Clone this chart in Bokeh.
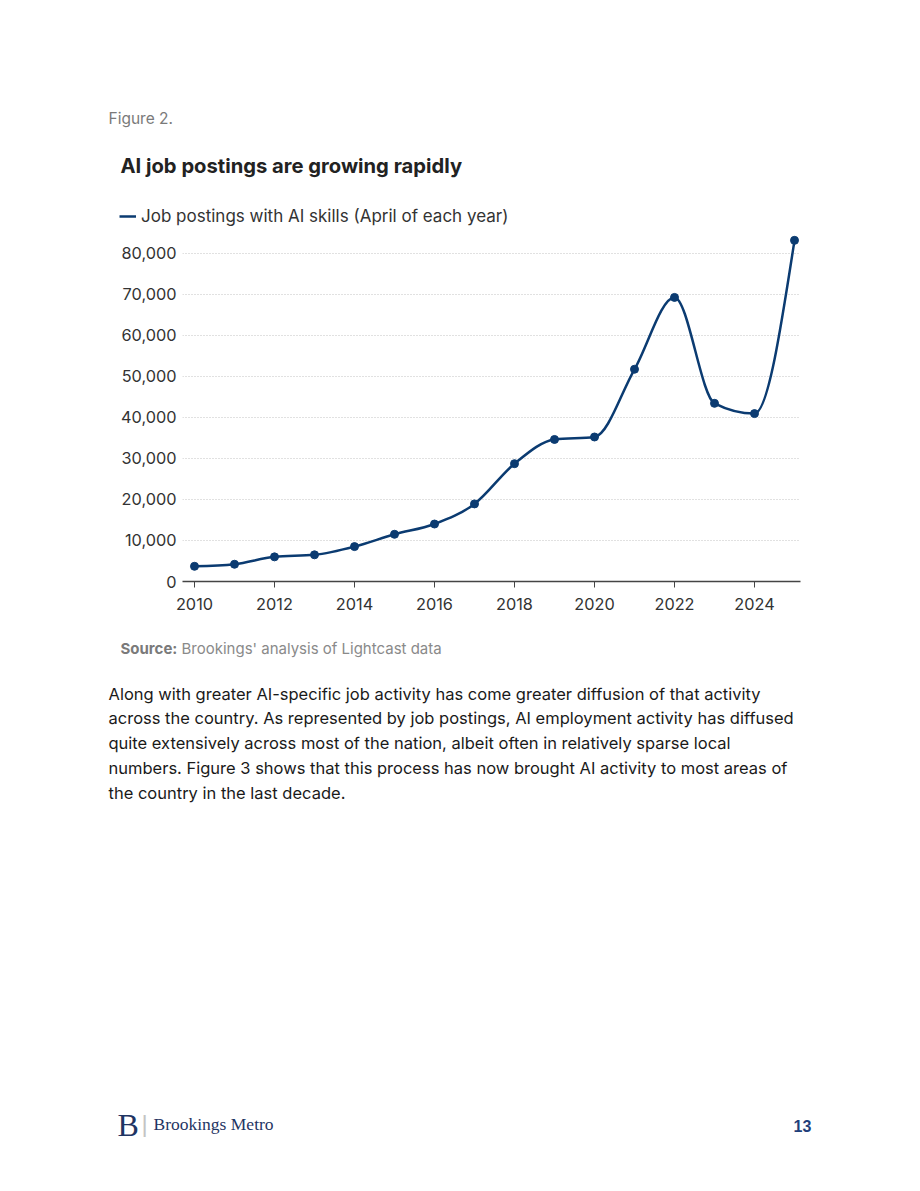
from bokeh.plotting import figure
from bokeh.layouts import column
from bokeh.models import (Label, Legend, LegendItem, FixedTicker, NumeralTickFormatter,
                          Range1d)
from bokeh.embed import file_html
from bokeh.resources import INLINE
import numpy as np

# Job postings with AI skills, April of each year
years = [2010, 2011, 2012, 2013, 2014, 2015, 2016, 2017,
         2018, 2019, 2020, 2021, 2022, 2023, 2024, 2025]
postings = [3700, 4200, 6000, 6500, 8500, 11500, 14000, 18900,
            28700, 34600, 35200, 51700, 69200, 43400, 40900, 83100]

x_ticks = [2010, 2012, 2014, 2016, 2018, 2020, 2022, 2024]
y_ticks = [0, 10000, 20000, 30000, 40000, 50000, 60000, 70000, 80000]

title_text = "AI job postings are growing rapidly"
legend_text = "Job postings with AI skills (April of each year)"
figure_text = "Figure 2."
source_bold = "Source:"
source_text = "Brookings' analysis of Lightcast data"
body_lines = [
    "Along with greater AI-specific job activity has come greater diffusion of that activity",
    "across the country. As represented by job postings, AI employment activity has diffused",
    "quite extensively across most of the nation, albeit often in relatively sparse local",
    "numbers. Figure 3 shows that this process has now brought AI activity to most areas of",
    "the country in the last decade.",
]

NAVY = "#0b3b71"
FONT = "Inter"

W = 920
TOP_H = 230          # header band: figure label, title, legend
CHART_H = 395        # chart band: plot frame plus x-axis labels
BOT_H = 1191 - TOP_H - CHART_H
F_LEFT, F_RIGHT, F_BOTTOM = 182, 800, 351   # frame edges inside the chart band
X0, X1 = 2009.7, 2025.15
Y0, Y1 = 0, 85500


def text_band(height, top):
    """A blank figure whose data coordinates equal page pixels."""
    f = figure(width=W, height=height, output_backend="svg", toolbar_location=None,
               x_range=Range1d(0, W), y_range=Range1d(top + height, top),
               x_axis_location=None, y_axis_location=None,
               min_border=0, min_border_left=0, min_border_right=0,
               min_border_top=0, min_border_bottom=0)
    f.frame_align = False
    f.outline_line_color = None
    f.xgrid.visible = False
    f.ygrid.visible = False
    return f


def add_text(f, px, py, text, size, color, style="normal", font=FONT):
    f.add_layout(Label(x=px, y=py, text=text, text_font=font,
                       text_font_size=size, text_color=color,
                       text_font_style=style, text_baseline="middle",
                       text_align="left"))


# ---- header ----
top = text_band(TOP_H, 0)
add_text(top, 108, 118, figure_text, "15.5px", "#7a7a7a")
add_text(top, 120, 165, title_text, "20.2px", "#222222", style="bold")
key = top.line(x=np.array([np.nan]), y=np.array([np.nan]),
               line_color=NAVY, line_width=2.5)
legend = Legend(items=[LegendItem(label=legend_text, renderers=[key])],
                location=(119, 4), orientation="horizontal",
                glyph_width=17, glyph_height=20, label_height=20,
                label_standoff=5, padding=0, margin=0, spacing=0,
                border_line_color=None, background_fill_alpha=0,
                label_text_font=FONT, label_text_font_size="17px",
                label_text_color="#333333")
top.add_layout(legend, "center")

# ---- chart ----
p = figure(width=W, height=CHART_H, output_backend="svg", toolbar_location=None,
           x_range=Range1d(X0, X1), y_range=Range1d(Y0, Y1),
           min_border_left=F_LEFT, min_border_right=W - F_RIGHT,
           min_border_top=0, min_border_bottom=CHART_H - F_BOTTOM)
p.frame_align = False
p.outline_line_color = None

# monotone cubic (d3 curveMonotoneX style) tangents for a smooth line
x = np.array(years, dtype=float)
y = np.array(postings, dtype=float)
h = np.diff(x)
s = np.diff(y) / h
t = np.zeros_like(y)
for i in range(1, len(x) - 1):
    s0, s1 = s[i - 1], s[i]
    pp = (s0 * h[i] + s1 * h[i - 1]) / (h[i - 1] + h[i])
    t[i] = (np.sign(s0) + np.sign(s1)) * min(abs(s0), abs(s1), 0.5 * abs(pp))
t[0] = (3 * s[0] - t[1]) / 2
t[-1] = (3 * s[-1] - t[-2]) / 2
d = h / 3
p.bezier(x0=x[:-1], y0=y[:-1], x1=x[1:], y1=y[1:],
         cx0=x[:-1] + d, cy0=y[:-1] + d * t[:-1],
         cx1=x[1:] - d, cy1=y[1:] - d * t[1:],
         line_color=NAVY, line_width=2.5)
p.scatter(years, postings, size=8, color=NAVY)

p.xaxis.ticker = FixedTicker(ticks=x_ticks)
p.yaxis.ticker = FixedTicker(ticks=y_ticks)
p.yaxis.formatter = NumeralTickFormatter(format="0,0")
for ax in (p.xaxis[0], p.yaxis[0]):
    ax.major_label_text_font = FONT
    ax.major_label_text_font_size = "16.3px"
    ax.major_label_text_color = "#333333"
    ax.minor_tick_line_color = None
p.xaxis.axis_line_color = "#444444"
p.xaxis.axis_line_width = 1.5
p.xaxis.major_tick_line_color = "#444444"
p.xaxis.major_tick_out = 6
p.xaxis.major_tick_in = 0
p.xaxis.major_label_standoff = 10
p.yaxis.axis_line_color = None
p.yaxis.major_tick_line_color = None
p.yaxis.major_tick_out = 0
p.yaxis.major_label_standoff = 6

p.xgrid.grid_line_color = None
p.ygrid.grid_line_color = "#c2c2c2"
p.ygrid.grid_line_dash = "1 2"
p.ygrid.grid_line_width = 1

# ---- source, body text and footer ----
OFF = TOP_H + CHART_H
bot = text_band(BOT_H, OFF)
add_text(bot, 120, 648, source_bold, "15px", "#7a7a7a", style="bold")
add_text(bot, 181, 648, source_text, "15px", "#8a8a8a")
for i, line in enumerate(body_lines):
    add_text(bot, 108, 693 + i * 24.8, line, "16.5px", "#1a1a1a")

add_text(bot, 117, 1124, "B", "32px", "#1f3563", font="Liberation Serif")
add_text(bot, 141, 1123, "|", "24px", "#c4c4c4", font="Liberation Sans")
add_text(bot, 153, 1123, "Brookings Metro", "17.5px", "#1f3563", font="Liberation Serif")
add_text(bot, 793, 1125, "13", "16px", "#1f3f7a", style="bold", font="Liberation Sans")

page = column(top, p, bot, spacing=0)
open("out.html", "w").write(file_html(page, INLINE))
